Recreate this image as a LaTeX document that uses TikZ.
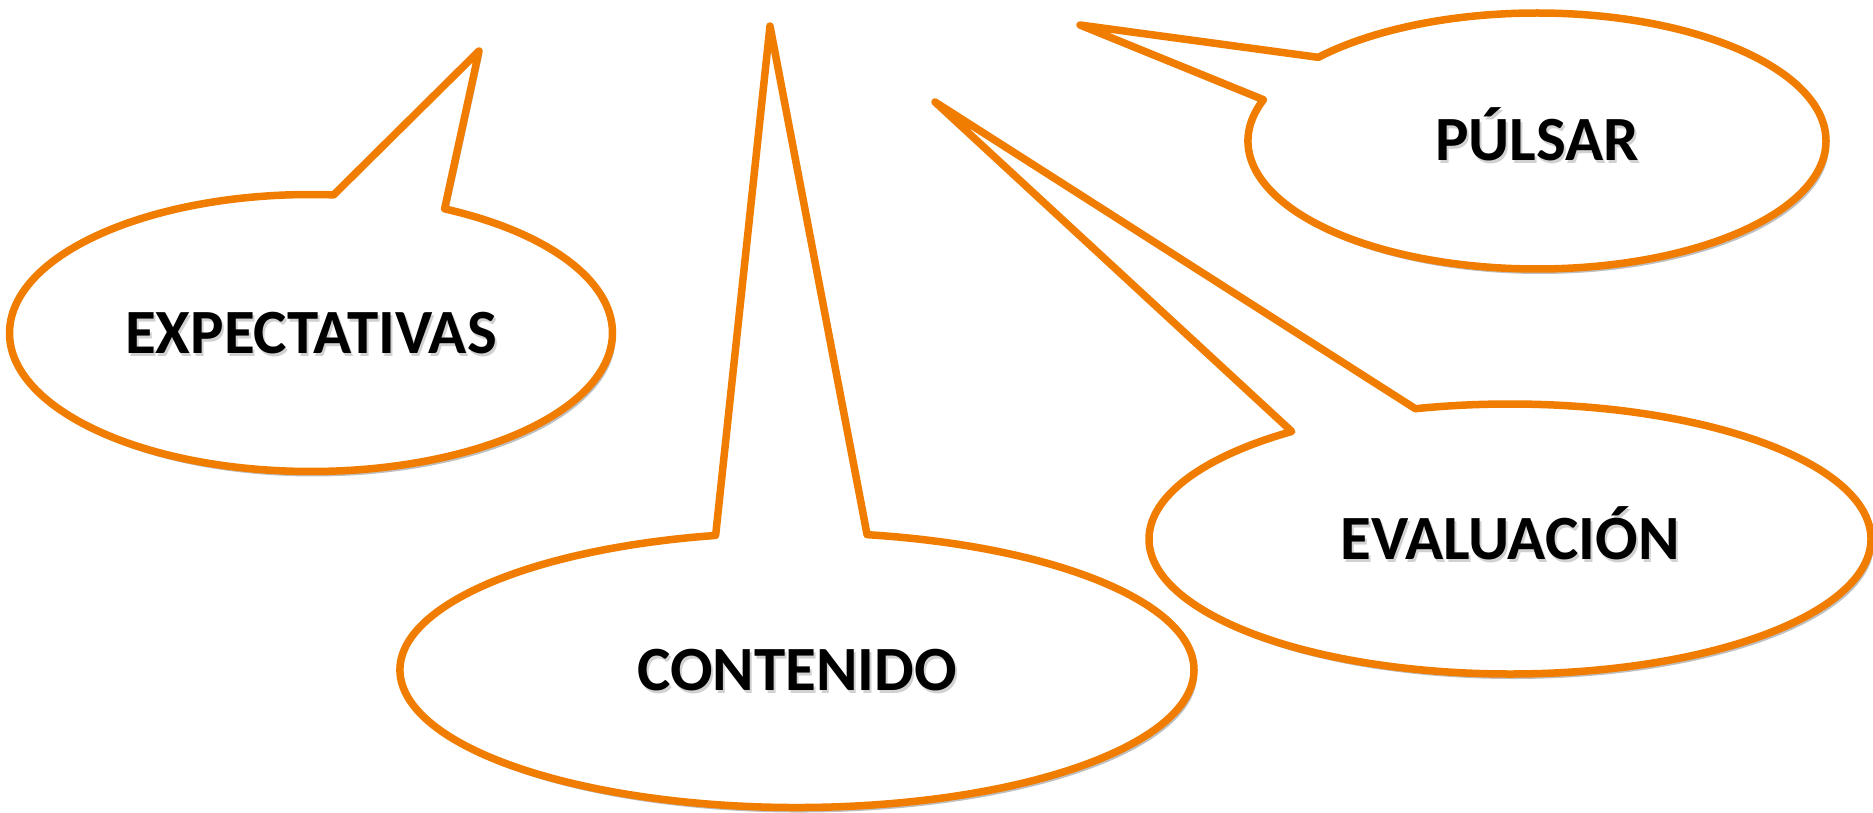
\documentclass[tikz,border=0pt]{standalone}
\usepackage{fontspec}
\setmainfont{Carlito}
\usepackage{tikz}
\usetikzlibrary{shapes.callouts,shadows}
\definecolor{bubbleorange}{RGB}{240,125,0}
\newcommand\shadowtext[1]{\makebox[0pt][l]{\kern2pt\raisebox{-3pt}{\color{black!18}#1}}#1}

\begin{document}
\begin{tikzpicture}[x=1pt,y=-1pt,
						bubble/.style={ellipse callout, draw=bubbleorange, fill=white,
							line width=7.5pt, line join=round, callout pointer arc=22,
							inner sep=0pt, outer sep=0pt,
							drop shadow={shadow xshift=3pt, shadow yshift=-5pt, opacity=0.25, fill=black},
							font=\fontsize{63}{63}\selectfont\bfseries, text height=40pt, text depth=0pt}]

						\useasboundingbox (0,0) rectangle (1873,813);

						%%% Pointer tips
						\coordinate (tipExp) at (479,51);
						\coordinate (tipCon) at (770,26);
						\coordinate (tipPul) at (1080,25);
						\coordinate (tipEva) at (935,102);

						%%% Callouts
						\node at (311,333) [bubble,minimum width=603pt,minimum height=277pt,
							callout absolute pointer={(tipExp)}] (expectativas) {\shadowtext{EXPECTATIVAS}};
						\node at (797,670) [bubble,minimum width=794pt,minimum height=275pt,
							callout absolute pointer={(tipCon)}] (contenido) {\shadowtext{CONTENIDO}};
						\node at (1537,141) [bubble,minimum width=578pt,minimum height=256pt,
							callout absolute pointer={(tipPul)}] (pulsar) {\shadowtext{PÚLSAR}};
						\node at (1510,539) [bubble,minimum width=722pt,minimum height=270pt,
							callout absolute pointer={(tipEva)}] (evaluacion) {\shadowtext{EVALUACIÓN}};
					\end{tikzpicture}
\end{document}
